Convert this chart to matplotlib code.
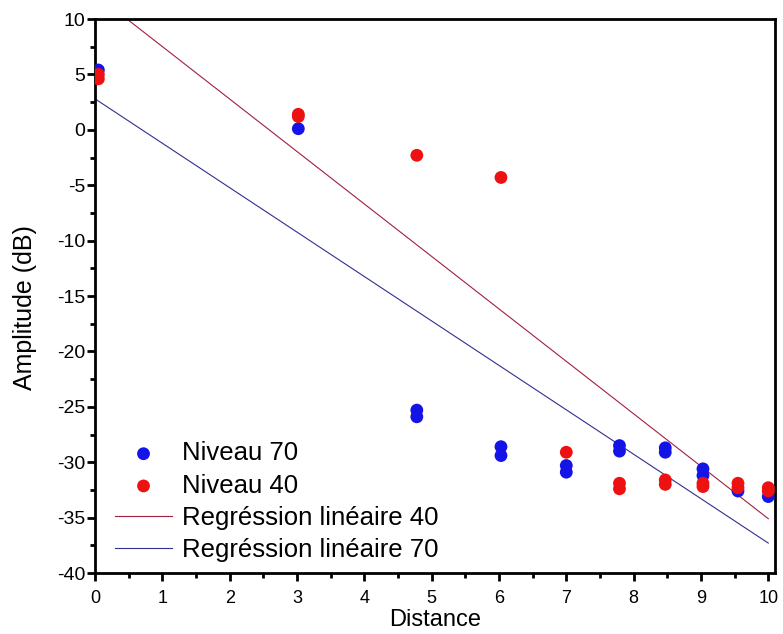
import matplotlib
matplotlib.use("Agg")
import matplotlib.pyplot as plt

# ---------- data ----------
dist_70 = [0.05, 3.02, 4.78, 4.78, 6.03, 6.03, 7.0, 7.0, 7.79, 7.79, 8.47, 8.47, 9.03, 9.03, 9.55, 10.0]
amp_70 = [5.4, 0.1, -25.3, -25.9, -28.6, -29.4, -30.3, -30.9, -28.5, -29.0, -28.7, -29.1, -30.6, -31.2, -32.6, -33.1]

dist_40 = [0.05, 0.05, 3.02, 3.02, 4.78, 6.03, 7.0, 7.79, 7.79, 8.47, 8.47, 9.03, 9.03, 9.55, 9.55, 10.0, 10.0]
amp_40 = [5.0, 4.6, 1.4, 1.2, -2.3, -4.3, -29.1, -31.9, -32.4, -31.6, -32.0, -31.9, -32.2, -31.9, -32.3, -32.3, -32.6]

# regression lines (end points)
reg40_x = [0, 10]
reg40_y = [12.25, -35.1]
reg70_x = [0, 10]
reg70_y = [2.8, -37.3]

labels = ["Niveau 70", "Niveau 40", "Regréssion linéaire 40", "Regréssion linéaire 70"]

plt.rcParams['font.family'] = ['Liberation Sans', 'DejaVu Sans']
plt.rcParams['axes.unicode_minus'] = False

fig = plt.figure(figsize=(7.83, 6.34), dpi=100)
ax = fig.add_axes([0.1213, 0.0962, 0.8685, 0.8738])

ax.scatter(dist_70, amp_70, s=85, color='#1414e6', edgecolors='none', label=labels[0], zorder=3)
ax.scatter(dist_40, amp_40, s=85, color='#ee1111', edgecolors='none', label=labels[1], zorder=4)
ax.plot(reg40_x, reg40_y, color='#a02040', lw=0.8, label=labels[2], zorder=2)
ax.plot(reg70_x, reg70_y, color='#303090', lw=0.8, label=labels[3], zorder=2)

ax.set_xlim(0, 10.1)
ax.set_ylim(-40, 10)
ax.set_xticks(range(0, 11))
ax.set_xticks([i + 0.5 for i in range(10)], minor=True)
ax.set_yticks(range(-40, 11, 5))
ax.set_yticks([-37.5 + 5 * i for i in range(10)], minor=True)

for s in ax.spines.values():
    s.set_linewidth(2.0)
ax.tick_params(which='major', direction='out', length=6, width=2)
ax.tick_params(which='minor', direction='out', length=3.5, width=2)
ax.tick_params(axis='x', which='major', pad=6, labelsize=13)
ax.tick_params(axis='y', which='major', pad=1, labelsize=14)

ax.set_xlabel("Distance", fontsize=17, labelpad=2)
ax.set_ylabel("Amplitude (dB)", fontsize=18)
ax.yaxis.set_label_coords(-0.085, 0.48)

ax.legend(loc='upper left', bbox_to_anchor=(0.0147, 0.256), frameon=False, fontsize=18.5,
          handlelength=2.2, handletextpad=0.4, labelspacing=0.32, borderaxespad=0.0,
          scatterpoints=1)

fig.savefig("out.png", dpi=100)
